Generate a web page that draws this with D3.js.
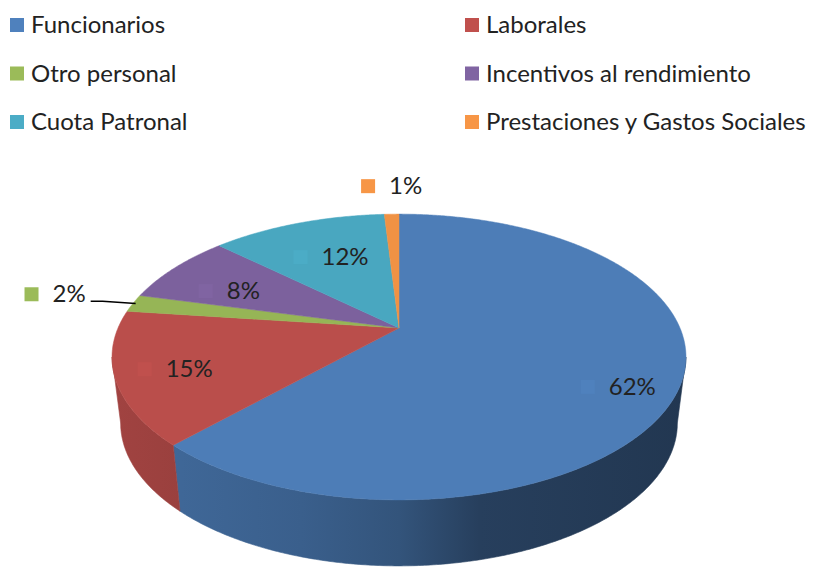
<!DOCTYPE html>
<html>
<head>
<meta charset="utf-8">
<script src="https://cdn.jsdelivr.net/npm/d3@7"></script>
<style>
  html, body { margin: 0; padding: 0; background: #fff; }
  svg { display: block; }
  text { font-family: Lato, "Open Sans", "Noto Sans", sans-serif; fill: #222; }
</style>
</head>
<body>
<svg id="chart" width="816" height="567"></svg>
<script>
// ---- data ----
const categories = ["Funcionarios", "Laborales", "Otro personal", "Incentivos al rendimiento", "Cuota Patronal", "Prestaciones y Gastos Sociales"];
const values = [62, 15, 2, 8, 12, 1];
const labels = ["62%", "15%", "2%", "8%", "12%", "1%"];
const colors = ["#4F81BD", "#C0504D", "#9BBB59", "#8064A2", "#4BACC6", "#F79646"];

// ---- layout ----
const W = 816, H = 567;
const cx = 399, cy = 328;       // apex of the pie (perspective centre)
const R = 281, Ry = 137;        // radius in x / y before perspective
const persp = 0.203;            // perspective strength
const depth = 66, shrink = 0.97;
const fontSize = 24;
const topShade = 0.97;

const svg = d3.select("#chart");
const defs = svg.append("defs");

function topPt(theta, k = 1) {
  const u = k * Math.sin(theta), v = -k * Math.cos(theta);
  const w = 1 - persp * v;
  return [cx + R * u / w, cy + Ry * v / w];
}
function botPt(theta) {
  const p = topPt(theta);
  return [cx + (p[0] - cx) * shrink, p[1] + depth];
}
function arcPts(a0, a1, f) {
  const n = Math.max(2, Math.ceil(Math.abs(a1 - a0) / (Math.PI / 360)));
  return d3.range(n + 1).map(i => f(a0 + (a1 - a0) * i / n));
}

const pie = d3.pie().sort(null).value(d => d.value).startAngle(0).endAngle(2 * Math.PI);
const data = categories.map((c, i) => ({ name: c, value: values[i], label: labels[i], color: colors[i] }));
const arcs = pie(data);

const line = d3.line();

// visible range of side wall (front half, between silhouettes)
const thL = Math.acos(-persp);           // right silhouette
const thR = 2 * Math.PI - thL;           // left silhouette

// side-shading factors across x
const shade = [[0, 0.84], [0.12, 0.80], [0.33, 0.74], [0.5, 0.65], [0.64, 0.49], [1, 0.43]];
const x0 = cx - R / Math.sqrt(1 - persp * persp), x1 = cx + R / Math.sqrt(1 - persp * persp);

function scaleColor(c, f) {
  const r = d3.rgb(c);
  return d3.rgb(r.r * f, r.g * f, r.b * f).formatHex();
}

const gSide = svg.append("g");
arcs.forEach((d, i) => {
  const s = Math.max(d.startAngle, thL), e = Math.min(d.endAngle, thR);
  if (e <= s) return;
  const gid = "side" + i;
  const grad = defs.append("linearGradient").attr("id", gid)
    .attr("gradientUnits", "userSpaceOnUse")
    .attr("x1", x0).attr("x2", x1).attr("y1", 0).attr("y2", 0);
  shade.forEach(([o, f]) => grad.append("stop").attr("offset", o).attr("stop-color", scaleColor(d.data.color, f)));
  const pts = arcPts(s, e, topPt).concat(arcPts(e, s, botPt));
  gSide.append("path").attr("d", line(pts) + "Z").attr("fill", `url(#${gid})`)
    .attr("stroke", `url(#${gid})`).attr("stroke-width", 0.6);
});

// top faces
const gTop = svg.append("g");
arcs.forEach(d => {
  const pts = [[cx, cy]].concat(arcPts(d.startAngle, d.endAngle, topPt));
  gTop.append("path").attr("d", line(pts) + "Z")
    .attr("fill", scaleColor(d.data.color, topShade))
    .attr("stroke", scaleColor(d.data.color, topShade)).attr("stroke-width", 0.5);
});

// data labels (marker + text); k = radial fraction, nudge = fine placement
const labelLayout = {
  "Funcionarios":                   { k: 0.8,  dx: 11,  dy: 15 },
  "Laborales":                      { k: 0.8,  dx: 14,  dy: 1 },
  "Otro personal":                  { k: 1.0,  dx: -64, dy: -10, leader: true },
  "Incentivos al rendimiento":      { k: 0.8,  dx: 27,  dy: 11 },
  "Cuota Patronal":                 { k: 0.8,  dx: 29.5,dy: 14.5 },
  "Prestaciones y Gastos Sociales": { k: 1.0,  dx: 14,  dy: -29 }
};
const gLab = svg.append("g");
arcs.forEach(d => {
  const L = labelLayout[d.data.name];
  const mid = (d.startAngle + d.endAngle) / 2;
  const p = topPt(mid, L.k);
  const tx = p[0] + L.dx, ty = p[1] + L.dy;   // text centre, cap middle
  const t = gLab.append("text").attr("x", tx).attr("y", ty + 9)
    .attr("text-anchor", "middle").attr("font-size", fontSize).text(d.data.label);
  const bw = t.node().getComputedTextLength();
  const left = tx - bw / 2;
  gLab.append("rect").attr("x", left - 28).attr("y", ty - 6).attr("width", 14).attr("height", 14)
    .attr("fill", d.data.color);
  if (L.leader) {
    const e = topPt(mid, 0.99);
    const sx = left + bw + 5, sy = ty + 8;
    gLab.append("path").attr("d", line([[sx, sy], [sx + 12, sy], e]))
      .attr("fill", "none").attr("stroke", "#000").attr("stroke-width", 1.5);
  }
});

// legend: 2 columns
const legend = svg.append("g");
const colX = [10, 465], rowY0 = 33, rowStep = 48.5;
data.forEach((d, i) => {
  const col = i % 2, row = Math.floor(i / 2);
  const bx = colX[col], by = rowY0 + row * rowStep;
  legend.append("rect").attr("x", bx).attr("y", by - 15).attr("width", 14).attr("height", 14).attr("fill", d.color);
  legend.append("text").attr("x", bx + 21).attr("y", by).attr("font-size", fontSize).text(d.name);
});
</script>
</body>
</html>
